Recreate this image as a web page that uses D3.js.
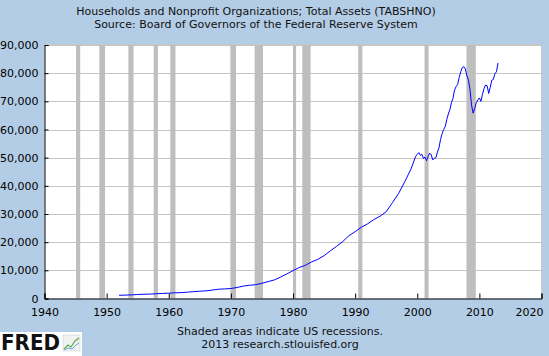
<!DOCTYPE html>
<html><head><meta charset="utf-8">
<script src="https://cdn.jsdelivr.net/npm/d3@7"></script>
<style>body{margin:0;background:#b4cde6;}svg{display:block;font-family:"DejaVu Sans",Verdana,sans-serif;}</style>
</head><body>
<svg id="c" width="549" height="356"></svg>
<script>
const titleLines = ["Households and Nonprofit Organizations; Total Assets (TABSHNO)", "Source: Board of Governors of the Federal Reserve System"];
const footLines = ["Shaded areas indicate US recessions.", "2013 research.stlouisfed.org"];
const yTicks = [0,10000,20000,30000,40000,50000,60000,70000,80000,90000];
const xTicks = [1940,1950,1960,1970,1980,1990,2000,2010,2020];
const recessions = [[1945.08,1945.75],[1948.83,1949.75],[1953.5,1954.33],[1957.58,1958.25],[1960.25,1961.08],[1969.92,1970.83],[1973.83,1975.17],[1980.0,1980.5],[1981.5,1982.83],[1990.5,1991.17],[2001.17,2001.83],[2007.92,2009.42]];
const dates = [1952,1953,1954,1955,1956,1957,1958,1959,1960,1961,1962,1963,1964,1965,1966,1967,1968,1969,1970,1971,1972,1973,1974,1975,1976,1977,1978,1979,1980,1981,1982,1983,1984,1985,1986,1987,1988,1989,1990,1991,1992,1993,1994,1995,1996,1997,1998,1999,1999.75,2000,2000.25,2000.5,2000.75,2001,2001.25,2001.5,2001.75,2002,2002.25,2002.5,2002.75,2003,2003.25,2003.5,2003.75,2004,2004.25,2004.5,2004.75,2005,2005.25,2005.5,2005.75,2006,2006.25,2006.5,2006.75,2007,2007.25,2007.5,2007.75,2008,2008.25,2008.5,2008.75,2009,2009.25,2009.5,2009.75,2010,2010.25,2010.5,2010.75,2011,2011.25,2011.5,2011.75,2012,2012.25,2012.5,2012.75,2013];
const values = [1140,1200,1290,1420,1510,1560,1700,1800,1880,2030,2080,2250,2420,2600,2720,2980,3300,3400,3550,3900,4400,4700,4900,5400,6000,6600,7600,8700,9900,11000,11800,13000,13900,15200,16900,18500,20200,22300,23700,25300,26500,28000,29200,30800,34000,37300,41500,46000,50500,51200,51800,50800,51200,49700,50200,48900,50400,51600,51000,49200,49800,50000,52000,53500,56500,58500,60000,61000,63500,65500,67000,69500,71000,74000,75200,76000,78500,80500,82000,82300,81500,79000,77500,74000,68500,65800,67500,69500,70500,71200,70000,72500,74500,75800,75500,72800,75000,77500,77800,79800,80500,83600];

const svg = d3.select("#c");
const L=44.5, R=541.5, T=45, B=298.5;
const x = d3.scaleLinear().domain([1940,2020]).range([L,R]);
const y = d3.scaleLinear().domain([0,90000]).range([B,T]);

svg.append("rect").attr("x",L).attr("y",T).attr("width",R-L).attr("height",B-T).attr("fill","#fff");

// grid
svg.append("g").selectAll("line").data(yTicks.filter(d=>d>0)).join("line")
  .attr("x1",L).attr("x2",R).attr("y1",d=>Math.round(y(d))+0.5).attr("y2",d=>Math.round(y(d))+0.5)
  .attr("stroke","#c4c4c4").attr("stroke-width",1);

// recessions
svg.append("g").selectAll("rect").data(recessions).join("rect")
  .attr("x",d=>x(d[0])).attr("width",d=>x(d[1])-x(d[0]))
  .attr("y",T).attr("height",B-T).attr("fill","#bebebe");

// border top/right
svg.append("path").attr("d",`M${L},${T-0.5}H${R}V${B}`).attr("fill","none").attr("stroke","#c8c8c8");

// line
const line = d3.line().x((d,i)=>x(dates[i])).y(d=>y(d));
svg.append("path").datum(values).attr("d",line).attr("fill","none").attr("stroke","#0000ff").attr("stroke-width",1);

// axes
const ya = d3.axisLeft(y).tickValues(yTicks).tickSize(-4).tickPadding(6).tickFormat(d3.format(","));
const gy = svg.append("g").attr("transform",`translate(${L},0)`).call(ya);
const xa = d3.axisBottom(x).tickValues(xTicks).tickSize(-5).tickPadding(10).tickFormat(d3.format("d"));
const gx = svg.append("g").attr("transform",`translate(0,${B})`).call(xa);
[gy,gx].forEach(g=>{
  g.selectAll("text").attr("fill","#000").style("font-size","11px").style("font-family","DejaVu Sans, Verdana, sans-serif");
  g.selectAll(".tick line").attr("stroke","#000");
  g.select(".domain").attr("stroke","#000");
});
gy.selectAll("text").attr("x",-6);
gx.selectAll(".tick").filter(d=>d===2020).select("text").attr("text-anchor","end").attr("dx","1.5");

// titles
svg.append("g").selectAll("text").data(titleLines).join("text")
  .attr("x",256).attr("y",(d,i)=>15+i*13).attr("text-anchor","middle")
  .style("font-size","11px").attr("fill","#111").text(d=>d);
svg.append("g").selectAll("text").data(footLines).join("text")
  .attr("x",280).attr("y",(d,i)=>335+i*13).attr("text-anchor","middle")
  .style("font-size","11px").attr("fill","#111").text(d=>d);

// FRED logo
const lg = svg.append("g");
lg.append("rect").attr("x",0).attr("y",332).attr("width",82).attr("height",24).attr("fill","#fff");
lg.append("text").attr("x",1).attr("y",350).text("FRED").style("font-size","21px").style("font-weight","bold").style("font-family","DejaVu Sans, sans-serif").attr("fill","#111").attr("textLength",59).attr("lengthAdjust","spacingAndGlyphs");
lg.append("rect").attr("x",63).attr("y",335).attr("width",17).attr("height",16).attr("fill","#eef2f0").attr("stroke","#ccc").attr("stroke-width",0.5);
lg.append("path").attr("d","M64,349 L68,345 L71,347 L75,341 L79,338").attr("fill","none").attr("stroke","#6aa84f").attr("stroke-width",1.2);
lg.append("path").attr("d","M64,350 L68,348 L72,349 L76,345 L79,343").attr("fill","none").attr("stroke","#6fa8dc").attr("stroke-width",1);
</script>
</body></html>
